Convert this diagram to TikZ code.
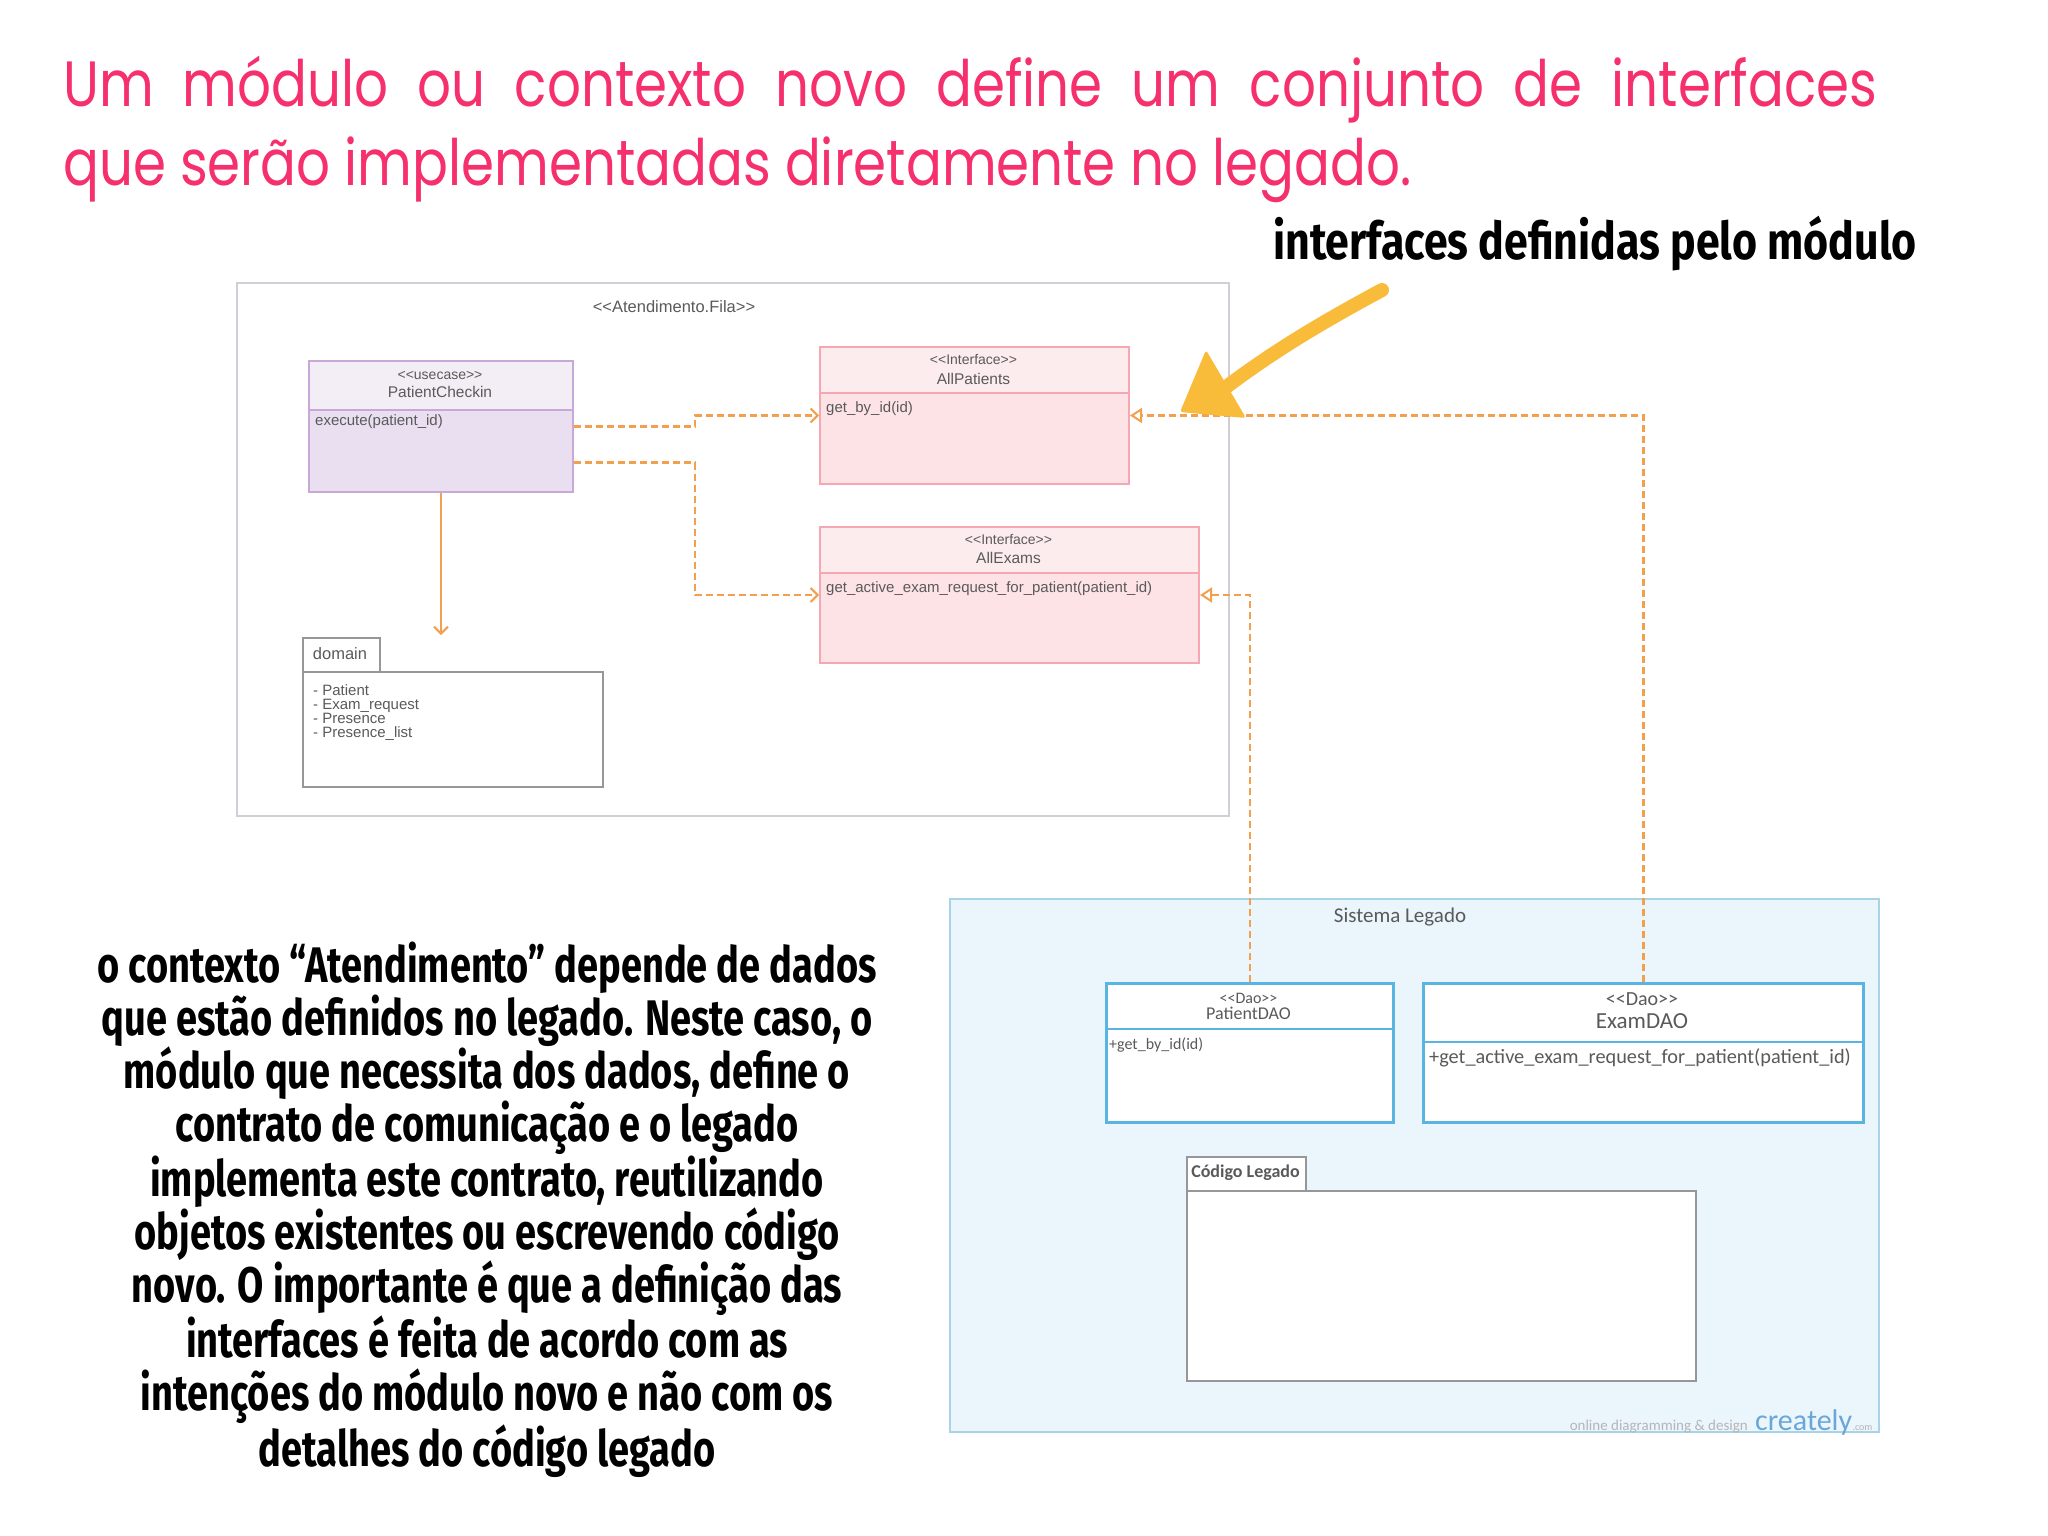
\documentclass[tikz,border=0pt]{standalone}
\usepackage{fontspec}
\setmainfont{Liberation Sans}
\newfontfamily\titlefont[FakeStretch=0.83]{Poppins}
\newfontfamily\handfont[FakeStretch=0.76]{Fira Sans}
\newfontfamily\annfont[FakeStretch=0.825]{Fira Sans}
\newfontfamily\legfont{Carlito}
\usetikzlibrary{arrows.meta}
\definecolor{titlepink}{HTML}{F5306C}
\definecolor{depor}{HTML}{F2A04E}
\definecolor{arrowyel}{HTML}{F8BC3A}
\definecolor{txtgray}{HTML}{5A5A5A}
\definecolor{pcborder}{HTML}{C9A8D8}
\definecolor{pcfill}{HTML}{E9DFF0}
\definecolor{pchead}{HTML}{F3EEF5}
\definecolor{ifborder}{HTML}{F5A8B2}
\definecolor{iffill}{HTML}{FDE2E6}
\definecolor{ifhead}{HTML}{FCECEE}
\definecolor{framegray}{HTML}{CFCFD5}
\definecolor{legfill}{HTML}{EBF5FC}
\definecolor{legborder}{HTML}{A9D3E6}
\definecolor{daoborder}{HTML}{5AB4E2}
\definecolor{pkgborder}{HTML}{979799}
\definecolor{crblue}{HTML}{6AA7D8}
\tikzset{
  box/.style={draw, inner sep=0pt, anchor=north west, line width=2pt},
  frame/.style={box, draw=framegray, fill=white},
  legacy/.style={box, draw=legborder, fill=legfill},
  ucbox/.style={box, draw=pcborder, fill=pcfill},
  uchead/.style={box, draw=pcborder, fill=pchead},
  ifbox/.style={box, draw=ifborder, fill=iffill},
  ifhead/.style={box, draw=ifborder, fill=ifhead},
  daobox/.style={box, draw=daoborder, fill=white, line width=2.5pt},
  pkg/.style={box, draw=pkgborder, fill=white},
  stereo/.style={text=txtgray, font=\fontsize{14}{15}\selectfont, inner sep=0pt},
  cname/.style={text=txtgray, font=\fontsize{15.5}{16}\selectfont, inner sep=0pt},
  meth/.style={text=txtgray, font=\fontsize{15}{16}\selectfont, inner sep=0pt, anchor=west},
  dep/.style={draw=depor, line width=2.5pt, dash pattern=on 7pt off 4pt,
    -{Straight Barb[length=7pt,width=14pt,line width=2pt]}},
  real/.style={draw=depor, line width=2.5pt, dash pattern=on 7pt off 4pt,
    -{Triangle[length=12pt,width=15pt,fill=white,line width=2pt]}},
  assoc/.style={draw=depor, line width=2pt,
    -{Straight Barb[length=7pt,width=14pt,line width=2pt]}}
}
\begin{document}
\begin{tikzpicture}[x=1pt,y=-1pt]
\useasboundingbox[fill=white] (0,0) rectangle (2048,1536);

% title
\node[anchor=base west, inner sep=0pt, text=titlepink] (t1) at (63,107)
  {\titlefont\fontsize{64}{64}\selectfont\makebox[1814pt][s]{Um módulo ou contexto novo define um conjunto de interfaces}};
\node[anchor=base west, inner sep=0pt, text=titlepink] (t2) at (63,185)
  {\titlefont\fontsize{64}{64}\selectfont que serão implementadas diretamente no legado.};

% annotation
\node[anchor=base west, inner sep=0pt] (ann) at (1273,259)
  {\annfont\bfseries\fontsize{52}{52}\selectfont interfaces definidas pelo módulo};

% Atendimento frame
\node[frame, minimum width=992pt, minimum height=533pt] (fila) at (236,282) {};
\node[text=txtgray, inner sep=0pt, font=\fontsize{16.5}{17}\selectfont] (filal) at (674,307) {{<}{<}Atendimento.Fila{>}{>}};

% PatientCheckin
\node[ucbox, minimum width=264pt, minimum height=131pt] (pc) at (308,360) {};
\node[uchead, minimum width=264pt, minimum height=49pt] (pch) at (308,360) {};
\node[stereo] (pcs) at (440,375) {{<}{<}usecase{>}{>}};
\node[cname] (pcn) at (440,392) {PatientCheckin};
\node[meth] (pcm) at (315,422) {execute(patient\_id)};

% AllPatients
\node[ifbox, minimum width=309pt, minimum height=137pt] (ap) at (819,346) {};
\node[ifhead, minimum width=309pt, minimum height=46pt] (aph) at (819,346) {};
\node[stereo] (aps) at (973.5,360) {{<}{<}Interface{>}{>}};
\node[cname] (apn) at (973.5,379) {AllPatients};
\node[meth] (apm) at (826,409) {get\_by\_id(id)};

% AllExams
\node[ifbox, minimum width=379pt, minimum height=136pt] (ae) at (819,526) {};
\node[ifhead, minimum width=379pt, minimum height=46pt] (aeh) at (819,526) {};
\node[stereo] (aes) at (1008.5,539) {{<}{<}Interface{>}{>}};
\node[cname] (aen) at (1008.5,558) {AllExams};
\node[meth] (aem) at (826,589) {get\_active\_exam\_request\_for\_patient(patient\_id)};

% domain package
\node[pkg, minimum width=77pt, minimum height=34pt] (domt) at (302,637) {};
\node[text=txtgray, inner sep=0pt, font=\fontsize{16.5}{17}\selectfont] (domtl) at (340,654) {domain};
\node[pkg, minimum width=300pt, minimum height=115pt] (dom) at (302,671) {};
\node[anchor=north west, align=left, inner sep=0pt, text=txtgray, font=\fontsize{15}{14}\selectfont] (doml) at (313,684)
  {- Patient\\- Exam\_request\\- Presence\\- Presence\_list};

% Sistema Legado
\node[legacy, minimum width=929pt, minimum height=533pt] (leg) at (949,898) {};
\node[text=txtgray, inner sep=0pt, font=\legfont\fontsize{21}{22}\selectfont] (legl) at (1400,917) {Sistema Legado};

% PatientDAO
\node[daobox, minimum width=287pt, minimum height=139pt] (pd) at (1105,982) {};
\draw[draw=daoborder, line width=2.5pt] (pd.west |- 0,1029) -- (pd.east |- 0,1029);
\node[stereo, font=\legfont\fontsize{16}{17}\selectfont] (pds) at (1248.5,998) {<<Dao>>};
\node[cname, font=\legfont\fontsize{18}{19}\selectfont] (pdn) at (1248.5,1013) {PatientDAO};
\node[meth, font=\legfont\fontsize{16}{17}\selectfont] (pdm) at (1109,1045) {+get\_by\_id(id)};

% ExamDAO
\node[daobox, minimum width=440pt, minimum height=139pt] (ed) at (1422,982) {};
\draw[draw=daoborder, line width=2.5pt] (ed.west |- 0,1042) -- (ed.east |- 0,1042);
\node[stereo, font=\legfont\fontsize{20}{21}\selectfont] (eds) at (1642,999) {<<Dao>>};
\node[cname, font=\legfont\fontsize{23}{24}\selectfont] (edn) at (1642,1021) {ExamDAO};
\node[meth, font=\legfont\fontsize{20.3}{21}\selectfont] (edm) at (1429,1058) {+get\_active\_exam\_request\_for\_patient(patient\_id)};

% Codigo Legado package
\node[pkg, minimum width=119pt, minimum height=34pt] (clt) at (1186,1156) {};
\node[text=txtgray, inner sep=0pt, font=\legfont\bfseries\fontsize{18}{19}\selectfont] (cltl) at (1245.5,1173) {Código Legado};
\node[pkg, minimum width=509pt, minimum height=190pt] (cl) at (1186,1190) {};

% watermark
\node[anchor=base east, inner sep=0pt, text=txtgray!45, font=\legfont\fontsize{15}{16}\selectfont] (wm1) at (1748,1430) {online diagramming \& design};
\node[anchor=base west, inner sep=0pt, text=crblue, font=\legfont\fontsize{30}{30}\selectfont] (wm2) at (1755,1430) {creately};
\node[anchor=base west, inner sep=0pt, text=txtgray!45, font=\legfont\fontsize{10}{10}\selectfont] (wm3) at (wm2.base east) {.com};

% connectors
\draw[assoc] (pc.south) -- ([yshift=36pt]pc.south |- dom.north);
\draw[dep] (pc.east) -- ++(121,0) |- (ap.west);
\draw[dep] ([yshift=-36pt]pc.east) -- ++(121,0) |- (ae.west);
\draw[real] (ed.north) |- (ap.east);
\draw[real] (pd.north) |- (ae.east);

% yellow hand arrow
\draw[arrowyel, line width=14pt, line cap=round, line join=round]
  (1382,290) .. controls (1330,318) and (1270,352) .. (1212,398);
\fill[arrowyel, rounded corners=3pt] (1180,412) -- (1206,350) -- (1246,418) -- cycle;

% left text
\node[align=center, inner sep=0pt, font={\handfont\bfseries\fontsize{50}{52.9}\selectfont}] (body) at (487,1210)
  {o contexto “Atendimento” depende de dados\\
   que estão definidos no legado. Neste caso, o\\
   módulo que necessita dos dados, define o\\
   contrato de comunicação e o legado\\
   implementa este contrato, reutilizando\\
   objetos existentes ou escrevendo código\\
   novo. O importante é que a definição das\\
   interfaces é feita de acordo com as\\
   intenções do módulo novo e não com os\\
   detalhes do código legado};
\end{tikzpicture}
\end{document}
